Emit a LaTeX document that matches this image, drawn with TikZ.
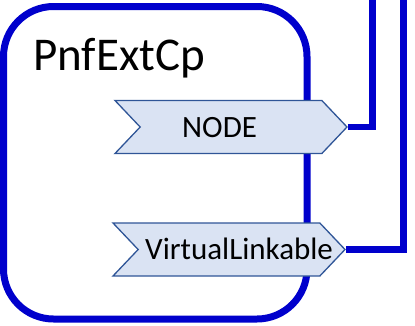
\documentclass[tikz,border=0pt]{standalone}
\usepackage{fontspec}
\setmainfont{Carlito}
\usepackage{tikz}
\usetikzlibrary{calc,positioning,shapes.symbols}
\definecolor{cpblue}{RGB}{0,0,204}
\definecolor{portfill}{HTML}{DAE3F3}
\definecolor{portline}{HTML}{2F5597}
\tikzset{
  cpbox/.style={draw=cpblue, line width=7pt, rounded corners=50pt,
    minimum width=303.5pt, minimum height=312.5pt, inner sep=0pt},
  port/.style={shape=signal, signal from=west, signal to=east,
    signal pointer angle=93, draw=portline, line width=1.3pt, fill=portfill,
    minimum width=232pt, minimum height=53pt, inner sep=0pt},
  title/.style={font=\fontsize{47}{50}\selectfont, inner sep=0pt, anchor=base west},
  plabel/.style={font=\fontsize{31}{34}\selectfont, inner sep=0pt, anchor=base west},
  wire/.style={draw=cpblue, line width=6.5pt}
}
\begin{document}
\begin{tikzpicture}[x=1pt, y=-1pt]
  \useasboundingbox (0,0) rectangle (415,325);
  \node[cpbox] (pnf) at (155.25,162.75) {};
  \node[title] (pnfname) at (33,70) {PnfExtCp};
  \node[port] (node) at (231,127) {};
  \node[port] (vlink) at (229,249.5) {};
  \node[plabel] (nodename) at (182,137) {NODE};
  \node[plabel] (vlinkname) at (145,259) {VirtualLinkable};
  \coordinate (nodeup) at (372.5,0);
  \coordinate (vlinkup) at (403.5,0);
  \draw[wire] (node.east) -| (nodeup);
  \draw[wire] (vlink.east) -| (vlinkup);
\end{tikzpicture}
\end{document}
